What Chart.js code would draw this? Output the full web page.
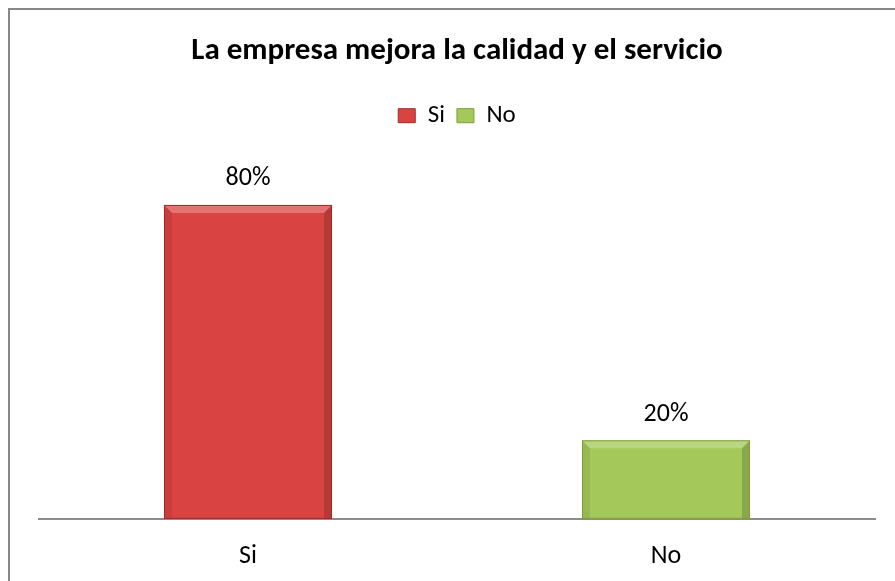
<!DOCTYPE html>
<html>
<head>
<meta charset="utf-8">
<style>
  html, body { margin: 0; padding: 0; background: #fff; }
  #wrap { width: 895px; height: 581px; }
</style>
</head>
<body>
<div id="wrap"><canvas id="chart" width="895" height="581"></canvas></div>
<script src="https://cdn.jsdelivr.net/npm/chart.js@4.4.0/dist/chart.umd.min.js"></script>
<script>
const TITLE = 'La empresa mejora la calidad y el servicio';
const categories = ['Si', 'No'];
const shares = [0.80, 0.20];
const barColors = ['#d94443', '#a4c85a'];
const bottomColors = ['#ad3232', '#8fb247'];
const edgeColors = ['#9e2a2a', '#7f9e3a'];
const FONT = 'Carlito, Calibri, Lato, sans-serif';

// bar fill: darker towards the bottom
function barFill(ctx) {
    const bar = ctx.element;
    const area = ctx.chart.chartArea;
    if (!bar || !area || bar.width == null) return barColors[ctx.dataIndex];
    const g = ctx.chart.ctx.createLinearGradient(bar.x, bar.y, bar.x, bar.base);
    const i = ctx.dataIndex;
    g.addColorStop(0, barColors[i]);
    g.addColorStop(0.5, barColors[i]);
    g.addColorStop(1, bottomColors[i]);
    return g;
}

// draws the bevelled edges on top of each bar
const bevel = {
    id: 'bevel',
    afterDatasetsDraw(chart) {
        const c = chart.ctx;
        chart.getDatasetMeta(0).data.forEach((bar, i) => {
            const l = bar.x - bar.width / 2, r = bar.x + bar.width / 2;
            const t = bar.y, b = bar.base, e = 8;
            c.save();
            // top
            c.fillStyle = 'rgba(255,255,255,0.25)';
            c.beginPath(); c.moveTo(l, t); c.lineTo(r, t); c.lineTo(r - e, t + e); c.lineTo(l + e, t + e); c.closePath(); c.fill();
            // left
            c.fillStyle = 'rgba(0,0,0,0.08)';
            c.beginPath(); c.moveTo(l, t); c.lineTo(l + e, t + e); c.lineTo(l + e, b); c.lineTo(l, b); c.closePath(); c.fill();
            // right
            c.fillStyle = 'rgba(0,0,0,0.16)';
            c.beginPath(); c.moveTo(r, t); c.lineTo(r - e, t + e); c.lineTo(r - e, b); c.lineTo(r, b); c.closePath(); c.fill();
            c.strokeStyle = edgeColors[i];
            c.lineWidth = 1;
            c.strokeRect(l + 0.5, t + 0.5, bar.width - 1, b - t - 1);
            c.restore();
        });
    }
};

// percentage labels above the bars
const valueLabels = {
    id: 'valueLabels',
    afterDatasetsDraw(chart) {
        const c = chart.ctx;
        const ds = chart.data.datasets[0];
        c.save();
        c.font = '26px ' + FONT;
        c.fillStyle = '#000';
        c.textAlign = 'center';
        c.textBaseline = 'middle';
        chart.getDatasetMeta(0).data.forEach((bar, i) => {
            c.fillText(Math.round(ds.data[i] * 100) + '%', bar.x, bar.y - 26);
        });
        c.restore();
    }
};

// outer frame of the chart
const frame = {
    id: 'frame',
    beforeDraw(chart) {
        const c = chart.ctx;
        c.save();
        c.strokeStyle = '#878787';
        c.lineWidth = 2;
        c.strokeRect(9, 9, 1000, 1000);
        c.restore();
    }
};

new Chart(document.getElementById('chart'), {
    type: 'bar',
    data: {
        labels: categories,
        datasets: [{
            data: shares,
            backgroundColor: barFill,
            borderWidth: 0,
            categoryPercentage: 1,
            barPercentage: 0.402
        }]
    },
    options: {
        responsive: false,
        animation: false,
        layout: { padding: { left: 39, right: 20, top: 0, bottom: -5 } },
        plugins: {
            title: {
                display: true,
                text: TITLE,
                color: '#000',
                font: { family: FONT, size: 31, weight: 'bold', lineHeight: 1.2 },
                padding: { top: 33, bottom: 21 }
            },
            legend: {
                display: true,
                labels: {
                    font: { family: FONT, size: 25, lineHeight: 1 },
                    color: '#000',
                    boxWidth: 17,
                    boxHeight: 14,
                    padding: 12,
                    generateLabels: () => categories.map((name, i) => ({
                        text: name,
                        fillStyle: barColors[i],
                        strokeStyle: edgeColors[i],
                        lineWidth: 1,
                        index: i
                    }))
                }
            },
            tooltip: { enabled: false }
        },
        scales: {
            x: {
                grid: { display: false },
                border: { display: true, color: '#8c8c8c', width: 2 },
                ticks: { color: '#000', font: { family: FONT, size: 26 }, padding: 14 }
            },
            y: {
                display: false,
                min: 0,
                max: 0.97
            }
        }
    },
    plugins: [frame, bevel, valueLabels]
});
</script>
</body>
</html>
